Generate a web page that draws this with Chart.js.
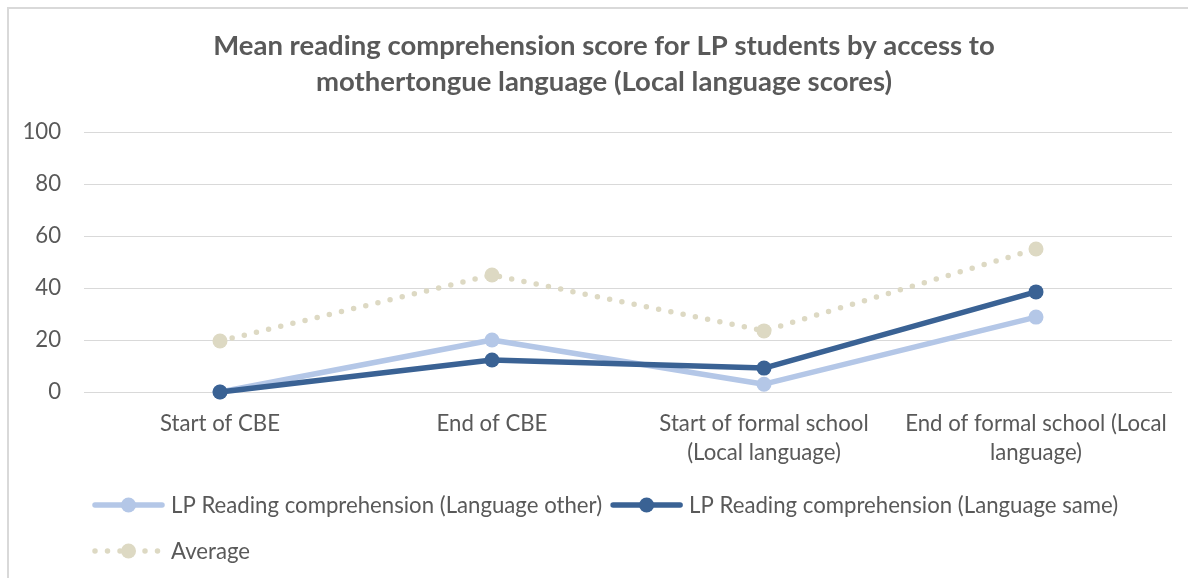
<!DOCTYPE html>
<html>
<head>
<meta charset="utf-8">
<script src="https://cdn.jsdelivr.net/npm/chart.js@4"></script>
<style>
  html, body { margin: 0; padding: 0; background: #ffffff; }
  #wrap { position: relative; width: 1188px; height: 578px; }
</style>
</head>
<body>
<div id="wrap"><canvas id="c" width="1188" height="578"></canvas></div>
<script>
// ---- data ----
const titleLines = ["Mean reading comprehension score for LP students by access to", "mothertongue language (Local language scores)"];
const categories = [["Start of CBE"], ["End of CBE"], ["Start of formal school", "(Local language)"], ["End of formal school (Local", "language)"]];
const seriesNames = ["LP Reading comprehension (Language other)", "LP Reading comprehension (Language same)", "Average"];
const languageOther = [0, 20, 3, 28.8];
const languageSame = [0, 12.3, 9.2, 38.5];
const average = [19.6, 45, 23.5, 55];
const yTicks = [0, 20, 40, 60, 80, 100];

const FONT = "Lato, 'Open Sans', sans-serif";
const TEXT = "#595959";

const framePlugin = {
  id: 'frame',
  beforeDraw(chart) {
    const ctx = chart.ctx;
    ctx.save();
    ctx.strokeStyle = '#d9d9d9';
    ctx.lineWidth = 2;
    ctx.beginPath();
    ctx.moveTo(8, 578); ctx.lineTo(8, 8); ctx.lineTo(1188, 8);
    ctx.stroke();
    ctx.restore();
  },
  afterDraw(chart) {
    const ctx = chart.ctx;
    ctx.save();
    // title
    ctx.fillStyle = TEXT;
    ctx.font = "bold 27.5px " + FONT;
    ctx.textAlign = 'center';
    ctx.textBaseline = 'middle';
    titleLines.forEach((t, i) => ctx.fillText(t, 604, 46 + i * 36));
    // legend
    ctx.font = "22.2px " + FONT;
    ctx.textAlign = 'left';
    let x = 93, y = 505;
    const symW = 71, gapT = 7, gapI = 9, rowH = 46, maxX = 1172;
    chart.data.datasets.forEach((ds, i) => {
      const tw = ctx.measureText(ds.label).width;
      if (x + symW + gapT + tw > maxX) { x = 93; y += rowH; }
      ctx.save();
      ctx.strokeStyle = ds.borderColor;
      ctx.lineWidth = ds.borderWidth;
      ctx.lineCap = 'round';
      ctx.setLineDash(ds.borderDash || []);
      ctx.beginPath();
      ctx.moveTo(x + 2, y); ctx.lineTo(x + symW - 2, y);
      ctx.stroke();
      ctx.setLineDash([]);
      ctx.fillStyle = ds.pointBackgroundColor;
      ctx.beginPath();
      ctx.arc(x + symW / 2, y, ds.pointRadius, 0, Math.PI * 2);
      ctx.fill();
      ctx.restore();
      ctx.fillStyle = TEXT;
      ctx.fillText(ds.label, x + symW + gapT, y + 1);
      x += symW + gapT + tw + gapI;
    });
    ctx.restore();
  }
};

function series(label, data, color, dash, order) {
  return {
    label, data, order,
    borderColor: color, backgroundColor: color,
    pointBackgroundColor: color, pointBorderColor: color,
    borderWidth: 5.5, pointRadius: 7.5, pointHoverRadius: 7.5, pointBorderWidth: 0,
    borderDash: dash, borderCapStyle: 'round', borderJoinStyle: 'round',
    tension: 0, fill: false, clip: false
  };
}

new Chart(document.getElementById('c'), {
  type: 'line',
  data: {
    labels: categories,
    datasets: [
      series(seriesNames[0], languageOther, '#B4C7E7', [], 1),
      series(seriesNames[1], languageSame, '#3A6294', [], 0),
      series(seriesNames[2], average, '#DDD9C3', [0, 12.5], 2)
    ]
  },
  options: {
    responsive: false,
    animation: false,
    events: [],
    layout: { padding: { top: 132, left: 0, right: 16, bottom: 0 } },
    plugins: { legend: { display: false }, title: { display: false }, tooltip: { enabled: false } },
    scales: {
      x: {
        offset: true,
        grid: { display: false, drawTicks: false },
        border: { display: false },
        ticks: { color: TEXT, font: { family: FONT, size: 22.2, lineHeight: '29px' }, padding: 17, maxRotation: 0, autoSkip: false },
        afterFit(scale) { scale.height = 186; }
      },
      y: {
        min: 0, max: 100,
        afterBuildTicks(scale) { scale.ticks = yTicks.map(v => ({ value: v })); },
        grid: { color: '#d9d9d9', lineWidth: 1, drawTicks: false },
        border: { display: false },
        ticks: { color: TEXT, font: { family: FONT, size: 22.2 }, padding: 23 },
        afterFit(scale) { scale.width = 84; }
      }
    }
  },
  plugins: [framePlugin]
});
</script>
</body>
</html>
